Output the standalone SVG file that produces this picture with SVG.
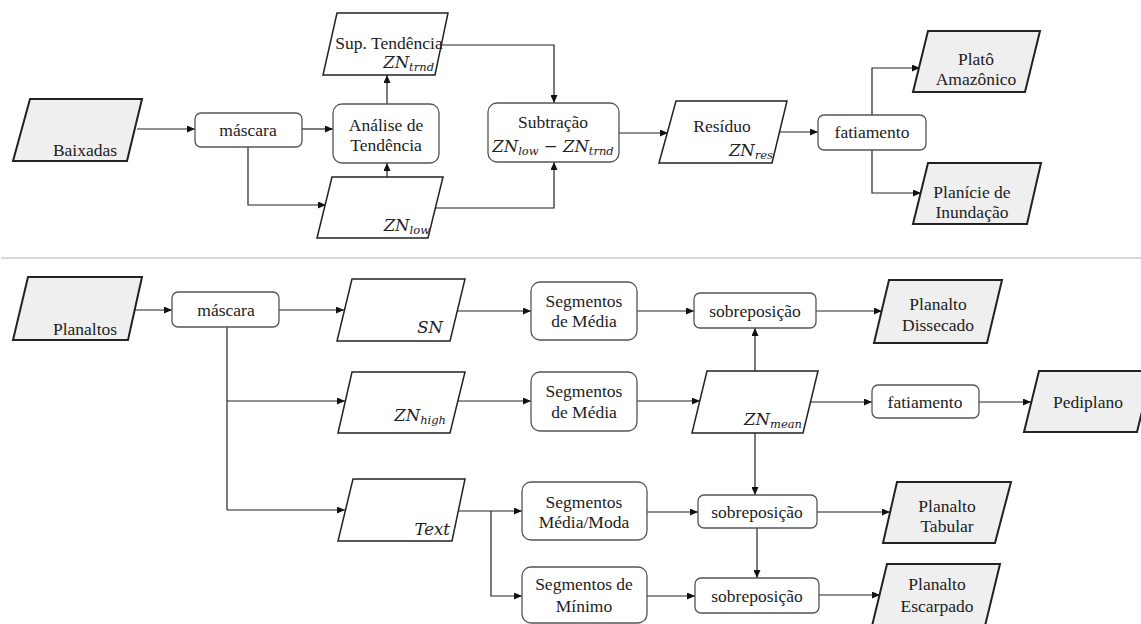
<svg xmlns="http://www.w3.org/2000/svg" width="1141" height="624" viewBox="0 0 1141 624">
<defs>
<marker id="ah" markerUnits="userSpaceOnUse" markerWidth="8" markerHeight="7" refX="8" refY="3.5" orient="auto">
<path d="M0,0 L8,3.5 L0,7 z" fill="#111"/>
</marker>
<style>
.t{font-family:"Liberation Serif","Times New Roman",serif;font-size:17.5px;fill:#222;text-anchor:middle}
.m{font-family:"DejaVu Serif",serif;font-style:italic;font-size:16.5px;fill:#222;text-anchor:end}
.sub{font-size:11.5px}
.io{fill:#fff;stroke:#222;stroke-width:1.5}
.out{fill:#efefef;stroke:#222;stroke-width:2}
.box{fill:#fff;stroke:#555;stroke-width:1.3}
.c path{fill:none;stroke:#222;stroke-width:1.2;marker-end:url(#ah)}
.c path.n{marker-end:none}
</style>
</defs>
<rect width="1141" height="624" fill="#fff"/>
<line x1="1" y1="258" x2="1141" y2="258" stroke="#d9d9d9" stroke-width="2"/>

<g class="c" id="connectors">
<path d="M137,129 H195"/>
<path d="M302,129 H333"/>
<path d="M387,104 V75"/>
<path d="M248,147 V205 H326"/>
<path d="M387,177 V163"/>
<path d="M441,45 H554 V103"/>
<path d="M435,208 H554 V162"/>
<path d="M619,133 H668"/>
<path d="M780,132 H818"/>
<path d="M872,115 V68 H920"/>
<path d="M872,150 V193 H921"/>

<path d="M135,310 H172"/>
<path d="M279,310 H344"/>
<path class="n" d="M227,327 V510"/>
<path d="M227,401 H345"/>
<path d="M227,510 H345"/>
<path d="M457,311 H531"/>
<path d="M637,311 H694"/>
<path d="M816,311 H882"/>
<path d="M458,401 H531"/>
<path d="M637,401 H700"/>
<path d="M755,371 V328"/>
<path d="M810,402 H872"/>
<path d="M979,402 H1031"/>
<path d="M755,433 V495"/>
<path d="M757,528 V578"/>
<path d="M458,511 H522"/>
<path d="M491,511 V596 H522"/>
<path d="M647,512 H698"/>
<path d="M647,596 H695"/>
<path d="M817,512 H890"/>
<path d="M819,595 H880"/>
</g>

<g id="baixadas"><polygon class="out" points="30,99 142,99 127,161 13,161"/><text class="t" x="85" y="156">Baixadas</text></g>
<g id="mascara1"><rect class="box" x="195" y="113" width="107" height="34" rx="6"/><text class="t" x="248" y="136">máscara</text></g>
<g id="analise"><rect class="box" x="333" y="104" width="106" height="59" rx="9"/><text class="t" x="386" y="131">Análise de</text><text class="t" x="386" y="151">Tendência</text></g>
<g id="suptend"><polygon class="io" points="337,13 448,13 435,75 323,75"/><text class="t" x="389" y="49">Sup. Tendência</text><text class="m" x="434" y="68">ZN<tspan class="sub" dy="3">trnd</tspan></text></g>
<g id="znlow"><polygon class="io" points="332,177 443,177 428,238 317,238"/><text class="m" x="430" y="231">ZN<tspan class="sub" dy="3">low</tspan></text></g>
<g id="subtracao"><rect class="box" x="488" y="103" width="131" height="59" rx="9"/><text class="t" x="553" y="128">Subtração</text><text class="m" x="553" y="152" style="text-anchor:middle">ZN<tspan class="sub" dy="3">low</tspan><tspan dy="-3"> − ZN</tspan><tspan class="sub" dy="3">trnd</tspan></text></g>
<g id="residuo"><polygon class="io" points="676,101 787,101 772,163 659,163"/><text class="t" x="722" y="132">Resíduo</text><text class="m" x="773" y="156">ZN<tspan class="sub" dy="3">res</tspan></text></g>
<g id="fatiamento1"><rect class="box" x="818" y="115" width="108" height="35" rx="6"/><text class="t" x="872" y="138">fatiamento</text></g>
<g id="plato"><polygon class="out" points="928,31 1040,31 1025,92 913,92"/><text class="t" x="976" y="65">Platô</text><text class="t" x="976" y="85">Amazônico</text></g>
<g id="planicie"><polygon class="out" points="928,163 1041,163 1027,224 913,224"/><text class="t" x="972" y="198">Planície de</text><text class="t" x="972" y="218">Inundação</text></g>

<g id="planaltos"><polygon class="out" points="28,277 142,277 128,340 13,340"/><text class="t" x="85" y="335">Planaltos</text></g>
<g id="mascara2"><rect class="box" x="172" y="292" width="107" height="35" rx="6"/><text class="t" x="226" y="316">máscara</text></g>
<g id="sn"><polygon class="io" points="352,279 465,279 450,341 337,341"/><text class="m" x="443" y="333">SN</text></g>
<g id="znhigh"><polygon class="io" points="352,372 465,372 450,433 338,433"/><text class="m" x="446" y="421">ZN<tspan class="sub" dy="3">high</tspan></text></g>
<g id="text"><polygon class="io" points="353,479 465,479 452,541 338,541"/><text class="m" x="450" y="535">Text</text></g>
<g id="segmedia1"><rect class="box" x="531" y="282" width="106" height="58" rx="9"/><text class="t" x="584" y="307">Segmentos</text><text class="t" x="584" y="327">de Média</text></g>
<g id="segmedia2"><rect class="box" x="531" y="372" width="106" height="59" rx="9"/><text class="t" x="584" y="397">Segmentos</text><text class="t" x="584" y="418">de Média</text></g>
<g id="segmoda"><rect class="box" x="522" y="482" width="125" height="58" rx="9"/><text class="t" x="584" y="508">Segmentos</text><text class="t" x="584" y="528">Média/Moda</text></g>
<g id="segmin"><rect class="box" x="522" y="567" width="125" height="56" rx="9"/><text class="t" x="584" y="590">Segmentos de</text><text class="t" x="584" y="612">Mínimo</text></g>
<g id="sobre1"><rect class="box" x="694" y="293" width="122" height="35" rx="6"/><text class="t" x="755" y="317">sobreposição</text></g>
<g id="znmean"><polygon class="io" points="707,371 818,371 803,433 692,433"/><text class="m" x="802" y="425">ZN<tspan class="sub" dy="3">mean</tspan></text></g>
<g id="sobre2"><rect class="box" x="698" y="495" width="119" height="33" rx="6"/><text class="t" x="757" y="518">sobreposição</text></g>
<g id="sobre3"><rect class="box" x="695" y="578" width="124" height="35" rx="6"/><text class="t" x="757" y="602">sobreposição</text></g>
<g id="dissecado"><polygon class="out" points="889,280 1002,280 987,343 874,343"/><text class="t" x="938" y="310">Planalto</text><text class="t" x="938" y="331">Dissecado</text></g>
<g id="fatiamento2"><rect class="box" x="872" y="385" width="107" height="33" rx="6"/><text class="t" x="925" y="408">fatiamento</text></g>
<g id="pediplano"><polygon class="out" points="1039,371 1152,371 1137,432 1024,432"/><text class="t" x="1088" y="408">Pediplano</text></g>
<g id="tabular"><polygon class="out" points="897,482 1011,482 995,543 883,543"/><text class="t" x="947" y="512">Planalto</text><text class="t" x="947" y="532">Tabular</text></g>
<g id="escarpado"><polygon class="out" points="887,564 1000,564 985,626 872,626"/><text class="t" x="937" y="590">Planalto</text><text class="t" x="937" y="612">Escarpado</text></g>
</svg>
